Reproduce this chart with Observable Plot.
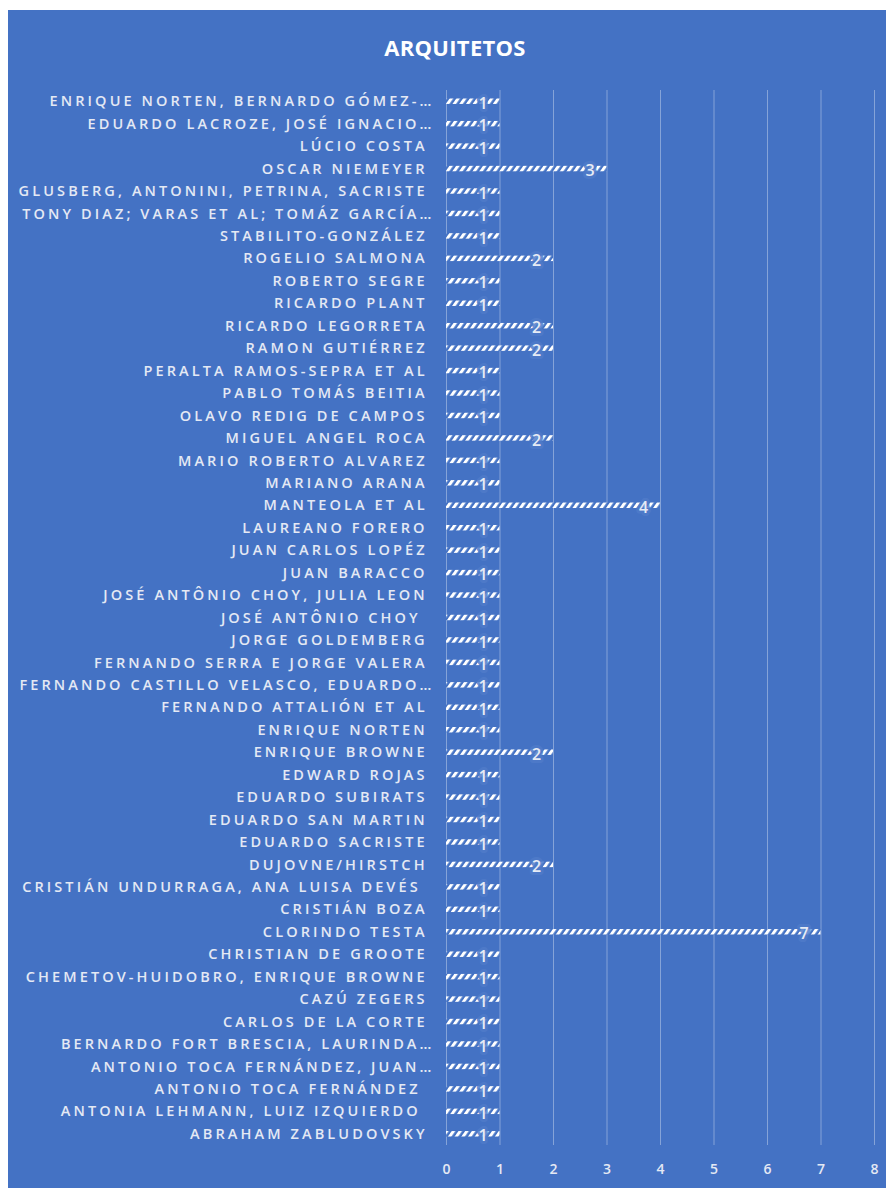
<!DOCTYPE html>
<html>
<head>
<meta charset="utf-8">
<script src="https://cdn.jsdelivr.net/npm/d3@7"></script>
<script src="https://cdn.jsdelivr.net/npm/@observablehq/plot@0.6"></script>
<style>
  html, body { margin: 0; padding: 0; background: #ffffff; }
  #panel { position: absolute; left: 8px; top: 10px; width: 878px; height: 1178px; background: #4472C4; overflow: hidden; }
  #title { position: absolute; left: 0; top: 22px; width: 894px; text-align: center; color: #ffffff;
           font-family: "Open Sans", sans-serif; font-weight: 700; font-size: 22px; letter-spacing: 0.3px; }
  #chart { position: absolute; left: 0; top: 0; }
</style>
</head>
<body>
<div id="panel">
  <div id="title">ARQUITETOS</div>
  <div id="chart"></div>
</div>
<script>
const categories = [
  "ENRIQUE NORTEN, BERNARDO GÓMEZ-…",
  "EDUARDO LACROZE, JOSÉ IGNACIO…",
  "LÚCIO COSTA\u00a0",
  "OSCAR NIEMEYER\u00a0",
  "GLUSBERG, ANTONINI, PETRINA, SACRISTE\u00a0",
  "TONY DIAZ; VARAS ET AL; TOMÁZ GARCÍA…",
  "STABILITO-GONZÁLEZ\u00a0",
  "ROGELIO SALMONA\u00a0",
  "ROBERTO SEGRE\u00a0",
  "RICARDO PLANT\u00a0",
  "RICARDO LEGORRETA\u00a0",
  "RAMON GUTIÉRREZ\u00a0",
  "PERALTA RAMOS-SEPRA ET AL\u00a0",
  "PABLO TOMÁS BEITIA\u00a0",
  "OLAVO REDIG DE CAMPOS\u00a0",
  "MIGUEL ANGEL ROCA\u00a0",
  "MARIO ROBERTO ALVAREZ\u00a0",
  "MARIANO ARANA\u00a0",
  "MANTEOLA ET AL\u00a0",
  "LAUREANO FORERO\u00a0",
  "JUAN CARLOS LOPÉZ\u00a0",
  "JUAN BARACCO\u00a0",
  "JOSÉ ANTÔNIO CHOY, JULIA LEON\u00a0",
  "JOSÉ ANTÔNIO CHOY\u00a0\u00a0",
  "JORGE GOLDEMBERG\u00a0",
  "FERNANDO SERRA E JORGE VALERA\u00a0",
  "FERNANDO CASTILLO VELASCO, EDUARDO…",
  "FERNANDO ATTALIÓN ET AL\u00a0",
  "ENRIQUE NORTEN\u00a0",
  "ENRIQUE BROWNE\u00a0",
  "EDWARD ROJAS\u00a0",
  "EDUARDO SUBIRATS\u00a0",
  "EDUARDO SAN MARTIN\u00a0",
  "EDUARDO SACRISTE\u00a0",
  "DUJOVNE/HIRSTCH\u00a0",
  "CRISTIÁN UNDURRAGA, ANA LUISA DEVÉS\u00a0\u00a0",
  "CRISTIÁN BOZA\u00a0",
  "CLORINDO TESTA\u00a0",
  "CHRISTIAN DE GROOTE\u00a0",
  "CHEMETOV-HUIDOBRO, ENRIQUE BROWNE\u00a0",
  "CAZÚ ZEGERS\u00a0",
  "CARLOS DE LA CORTE\u00a0",
  "BERNARDO FORT BRESCIA, LAURINDA…",
  "ANTONIO TOCA FERNÁNDEZ, JUAN…",
  "ANTONIO TOCA FERNÁNDEZ\u00a0\u00a0",
  "ANTONIA LEHMANN, LUIZ IZQUIERDO\u00a0\u00a0",
  "ABRAHAM ZABLUDOVSKY\u00a0"
];
const values = [
  1, 1, 1, 3, 1, 1, 1, 2, 1, 1, 2, 2, 1, 1, 1, 2, 1, 1, 4, 1, 1, 1, 1, 1,
  1, 1, 1, 1, 1, 2, 1, 1, 1, 1, 2, 1, 1, 7, 1, 1, 1, 1, 1, 1, 1, 1, 1
];
const xTicks = [0, 1, 2, 3, 4, 5, 6, 7, 8];

const data = categories.map((name, i) => ({name, value: values[i]}));

const chart = Plot.plot({
  width: 878,
  height: 1178,
  marginLeft: 438,
  marginRight: 12,
  marginTop: 80,
  marginBottom: 43,
  style: {background: "transparent", color: "#e4e9f4", fontFamily: "'Open Sans', sans-serif", fontSize: "14px", overflow: "visible"},
  x: {domain: [0, 8], label: null},
  y: {domain: categories, padding: 0, round: false, label: null},
  marks: [
    Plot.ruleX(xTicks, {stroke: "#ffffff", strokeOpacity: 0.35, strokeWidth: 1}),
    Plot.barX(data, {y: "name", x: "value", fill: "url(#hatch)", insetTop: 8.5, insetBottom: 8.5}),
    Plot.text(data, {y: "name", x: "value", text: "value", dx: -17, dy: 2, fill: "#e6ebf5", fontSize: 16, fontWeight: 600,
                     stroke: "#4f7bc9", strokeOpacity: 0.85, strokeWidth: 6}),
    Plot.axisX({ticks: xTicks, tickSize: 0, tickPadding: 19, fontSize: 14, fontWeight: 600, label: null, tickFormat: d => String(d)}),
    Plot.axisY({tickSize: 0, tickPadding: 12, fontSize: 14.5, label: null, fontWeight: 600})
  ]
});

// hatch pattern for the bars
const svg = d3.select(chart);
const defs = svg.insert("defs", ":first-child");
const pat = defs.append("pattern")
  .attr("id", "hatch")
  .attr("patternUnits", "userSpaceOnUse")
  .attr("width", 5.5).attr("height", 5.5)
  .attr("patternTransform", "rotate(35)");
pat.append("rect").attr("width", 5.5).attr("height", 5.5).attr("fill", "#4472C4");
pat.append("rect").attr("x", 0).attr("y", 0).attr("width", 3).attr("height", 5.5).attr("fill", "#ffffff");

svg.selectAll('g[aria-label="y-axis tick label"] text').style("letter-spacing", "3.1px");

document.getElementById("chart").appendChild(chart);
</script>
</body>
</html>
